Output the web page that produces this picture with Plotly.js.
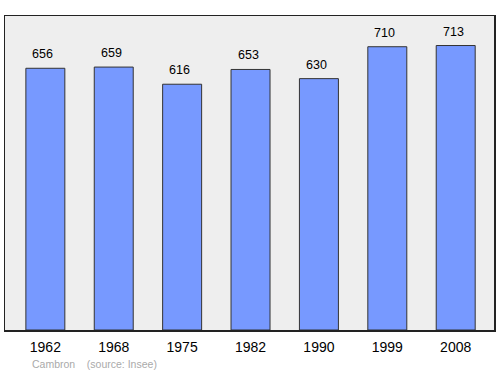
<!DOCTYPE html>
<html>
<head>
<meta charset="utf-8">
<script src="https://cdn.plot.ly/plotly-3.0.1.min.js"></script>
<style>html,body{margin:0;padding:0;background:#fff;}#chart{width:500px;height:374px;}</style>
</head>
<body>
<div id="chart"></div>
<script>
const years = ["1962", "1968", "1975", "1982", "1990", "1999", "2008"];
const population = [656, 659, 616, 653, 630, 710, 713];
const sourceText = "Cambron    (source: Insee)";

const font = "Liberation Sans, Arial, sans-serif";

const trace = {
  type: "bar",
  x: years,
  y: population,
  width: 0.57,
  marker: {color: "#7799ff", line: {color: "#333333", width: 1}},
  hoverinfo: "none"
};

const annotations = years.map((yr, i) => ({
  x: i, y: population[i], xref: "x", yref: "y",
  text: String(population[i]), showarrow: false,
  yanchor: "bottom", yshift: 5, xshift: -2.5,
  font: {family: font, size: 12.5, color: "#000"}
}));
annotations.push({
  xref: "paper", yref: "paper", x: 0.052, y: 0, xanchor: "left", yanchor: "top",
  yshift: -26, text: sourceText, showarrow: false,
  font: {family: font, size: 10.5, color: "#aaaaaa"}
});

const layout = {
  width: 500, height: 374,
  margin: {l: 5, r: 6, t: 16, b: 44, pad: 0},
  paper_bgcolor: "#ffffff",
  plot_bgcolor: "#eeeeee",
  showlegend: false,
  xaxis: {
    type: "category", range: [-0.59, 6.56], fixedrange: true,
    showline: true, mirror: true, linecolor: "#222", linewidth: 1.5,
    showgrid: false, zeroline: false,
    ticks: "outside", ticklen: 4, tickcolor: "rgba(0,0,0,0)",
    tickfont: {family: font, size: 14, color: "#000"}
  },
  yaxis: {
    range: [0, 787], fixedrange: true,
    showline: true, mirror: true, linecolor: "#222", linewidth: 1.5,
    showgrid: false, zeroline: false, showticklabels: false, ticks: ""
  },
  annotations: annotations
};

Plotly.newPlot("chart", [trace], layout, {staticPlot: true, displayModeBar: false});
</script>
</body>
</html>
